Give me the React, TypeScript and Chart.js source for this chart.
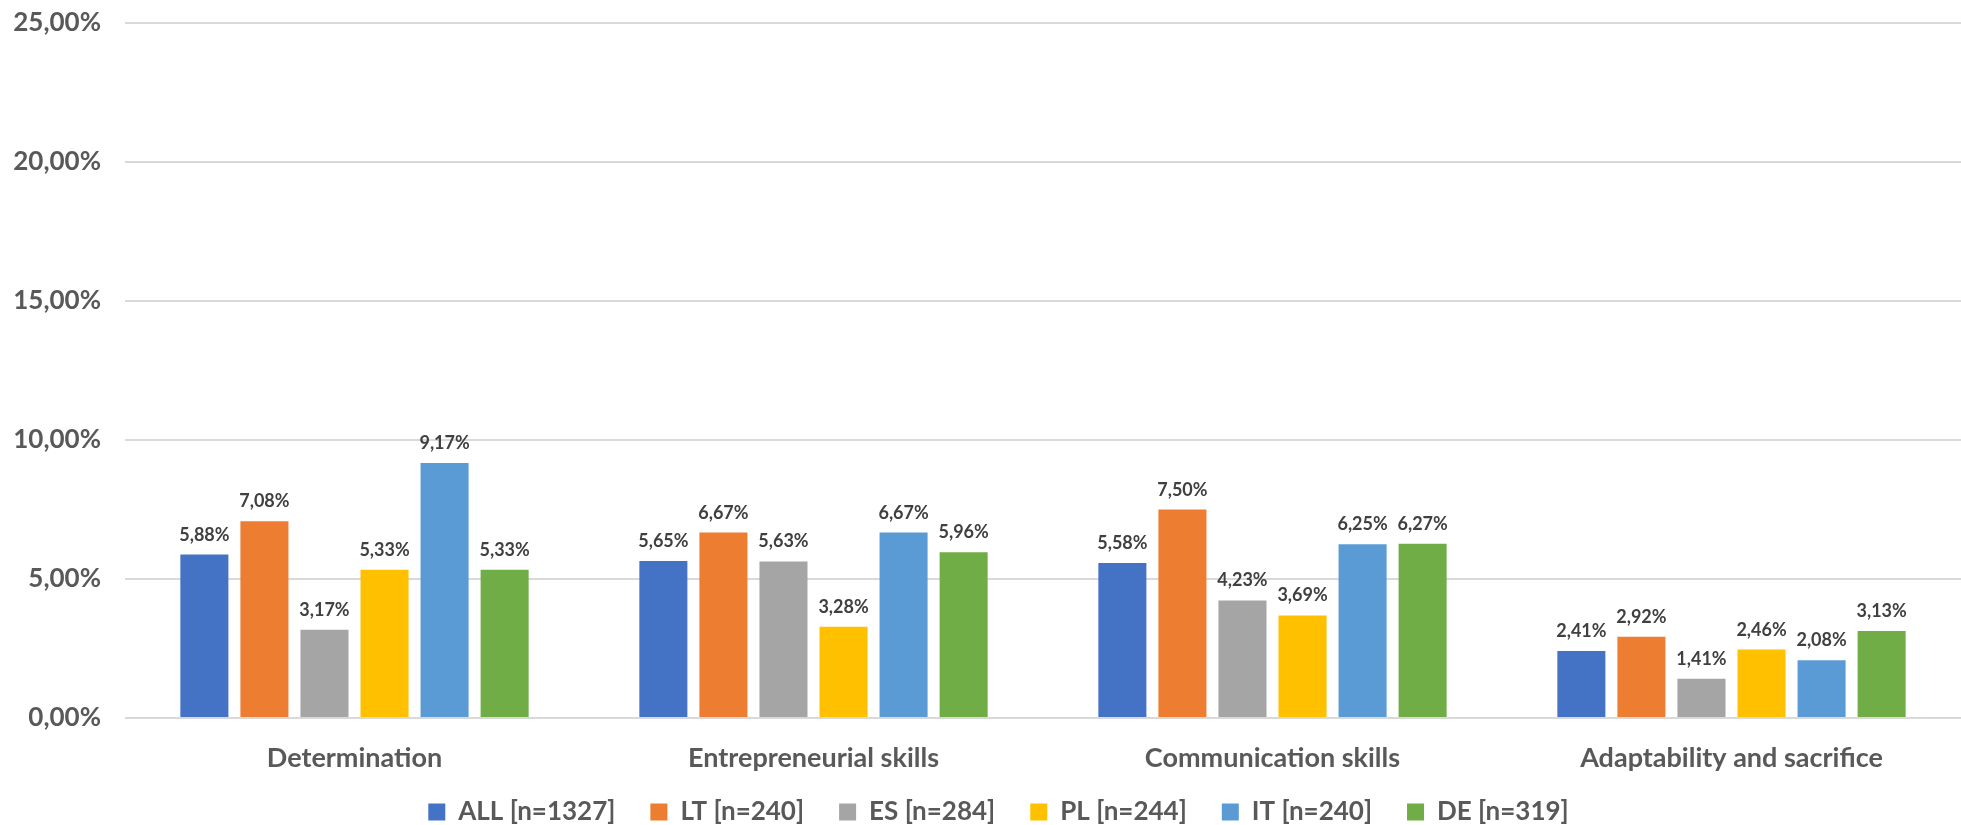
import React, { useEffect, useRef } from "react";
import { Chart, registerables } from "chart.js";

Chart.register(...registerables);

const categories = [
  "Determination",
  "Entrepreneurial skills",
  "Communication skills",
  "Adaptability and sacrifice",
];

const seriesLabels = [
  "ALL [n=1327]",
  "LT [n=240]",
  "ES [n=284]",
  "PL [n=244]",
  "IT [n=240]",
  "DE [n=319]",
];

const seriesColors = ["#4472C4", "#ED7D31", "#A5A5A5", "#FFC000", "#5B9BD5", "#70AD47"];

const allValues = [5.88, 5.65, 5.58, 2.41];
const ltValues = [7.08, 6.67, 7.5, 2.92];
const esValues = [3.17, 5.63, 4.23, 1.41];
const plValues = [5.33, 3.28, 3.69, 2.46];
const itValues = [9.17, 6.67, 6.25, 2.08];
const deValues = [5.33, 5.96, 6.27, 3.13];

const yTicks = [0, 5, 10, 15, 20, 25];

const FONT = "Lato, 'Open Sans', sans-serif";

const fmt = (v: number) => v.toFixed(2).replace(".", ",") + "%";

// Writes each bar's value just above it
const valueLabels = {
  id: "valueLabels",
  afterDatasetsDraw(chart: any) {
    const ctx = chart.ctx;
    ctx.save();
    ctx.font = `bold 18px ${FONT}`;
    ctx.fillStyle = "#404040";
    ctx.textAlign = "center";
    ctx.textBaseline = "alphabetic";
    chart.data.datasets.forEach((ds: any, i: number) => {
      const meta = chart.getDatasetMeta(i);
      meta.data.forEach((bar: any, j: number) => {
        ctx.fillText(fmt(ds.data[j]), bar.x, bar.y - 14);
      });
    });
    ctx.restore();
  },
};

export default function App() {
  const ref = useRef<HTMLCanvasElement | null>(null);

  useEffect(() => {
    document.body.style.margin = "0";
    const seriesValues = [allValues, ltValues, esValues, plValues, itValues, deValues];
    const chart = new Chart(ref.current as HTMLCanvasElement, {
      type: "bar",
      data: {
        labels: categories,
        datasets: seriesLabels.map((label, i) => ({
          label,
          data: seriesValues[i],
          backgroundColor: seriesColors[i],
          categoryPercentage: 0.785,
          barPercentage: 0.8,
        })),
      },
      options: {
        responsive: false,
        animation: false,
        layout: { padding: { left: 36, right: 0, top: 0, bottom: -10 } },
        plugins: {
          tooltip: { enabled: false },
          legend: {
            position: "bottom",
            labels: {
              boxWidth: 17,
              boxHeight: 17,
              padding: 35,
              color: "#595959",
              font: { family: FONT, size: 26, weight: "bold" },
            },
          },
        },
        scales: {
          x: {
            grid: { display: false, drawTicks: false },
            border: { display: false },
            afterFit: (scale: any) => {
              // compact axis box; category names may extend below it
              scale.height = 46;
              scale._computeLabelArea = () => undefined;
            },
            ticks: {
              color: "#595959",
              padding: 24,
              font: { family: FONT, size: 27, weight: "bold" },
            },
          },
          y: {
            min: 0,
            max: 25,
            afterBuildTicks: (axis: any) => {
              axis.ticks = yTicks.map((v) => ({ value: v }));
            },
            afterFit: (scale: any) => {
              scale.width = 89;
              scale.paddingTop = 23;
              scale.paddingBottom = 0;
              scale._computeLabelArea = () => undefined;
            },
            grid: { color: "#D9D9D9", lineWidth: 2, drawTicks: false },
            border: { display: false },
            ticks: {
              color: "#595959",
              padding: 24,
              font: { family: FONT, size: 26, weight: "bold" },
              callback: (v: any) => fmt(Number(v)),
            },
          },
        },
      },
      plugins: [valueLabels],
    });
    return () => chart.destroy();
  }, []);

  return (
    <div style={{ width: 1961, height: 825, background: "#fff" }}>
      <canvas ref={ref} width={1961} height={825} />
    </div>
  );
}
